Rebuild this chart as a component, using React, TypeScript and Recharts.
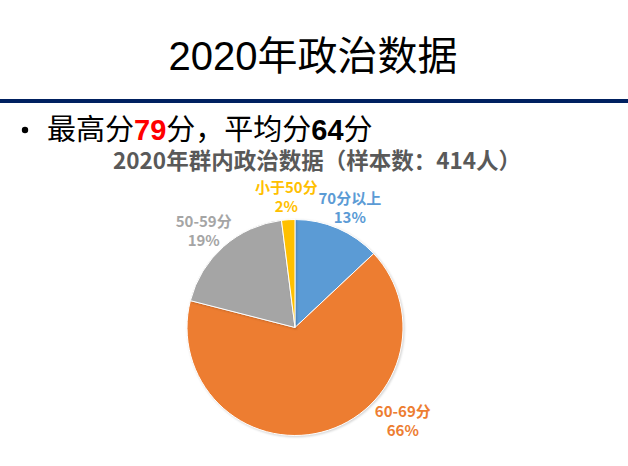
import React from "react";
import { PieChart, Pie, Cell } from "recharts";

const categories = ["70分以上", "60-69分", "50-59分", "小于50分"];
const percents = [13, 66, 19, 2];
const colors = ["#5B9BD5", "#ED7D31", "#A5A5A5", "#FFC000"];

const pageTitle = "2020年政治数据";
const chartTitle = "2020年群内政治数据（样本数：414人）";
const maxScore = 79;
const avgScore = 64;

const data = categories.map((name, i) => ({ name, value: percents[i] }));

const RADIAN = Math.PI / 180;

const renderLabel = (props: any) => {
  const { cx, cy, midAngle, outerRadius, index, name, value } = props;
  // Orange slice label is nudged up towards the right, like the best-fit placement of the original
  const angle = midAngle + (index === 1 ? 37 : 0);
  const r = outerRadius + 30;
  const x = cx + r * Math.cos(-angle * RADIAN);
  const y = cy + r * Math.sin(-angle * RADIAN);
  return (
    <text
      x={x}
      y={y}
      fill={colors[index]}
      textAnchor="middle"
      fontFamily="'Noto Sans CJK SC', sans-serif"
      fontWeight={700}
      fontSize={15}
    >
      <tspan x={x} y={y + 3}>{name}</tspan>
      <tspan x={x} y={y + 22.5}>{`${value}%`}</tspan>
    </text>
  );
};

export default function App() {
  return (
    <div style={{ position: "absolute", left: 0, top: 0, width: 628, height: 466, background: "#fff" }}>
      <style>{`.recharts-pie-sector path { filter: drop-shadow(1px 1px 1.2px rgba(0,0,0,0.18)); }`}</style>
      <div style={{ position: "absolute", left: 0, top: 0 }}>
        <PieChart width={628} height={466} margin={{ top: 0, right: 0, bottom: 0, left: 0 }}>
          <Pie
            data={data}
            dataKey="value"
            nameKey="name"
            cx={295}
            cy={327.5}
            outerRadius={108}
            startAngle={90}
            endAngle={-270}
            stroke="#ffffff"
            strokeWidth={1}
            label={renderLabel}
            labelLine={false}
            isAnimationActive={false}
          >
            {data.map((d, i) => (
              <Cell key={d.name} fill={colors[i]} />
            ))}
          </Pie>
        </PieChart>
      </div>
      <svg
        width={628}
        height={466}
        style={{ position: "absolute", left: 0, top: 0, pointerEvents: "none" }}
      >
        <text
          x={313}
          y={70}
          textAnchor="middle"
          fontFamily="'Liberation Sans', 'Noto Sans CJK SC', sans-serif"
          fontSize={40}
          fill="#000"
        >
          {pageTitle}
        </text>
        <rect x={0} y={99} width={628} height={4} fill="#002060" />
        <circle cx={25} cy={130} r={3.2} fill="#000" />
        <text
          x={47}
          y={140}
          fontFamily="'Liberation Sans', 'Noto Sans CJK SC', sans-serif"
          fontSize={29}
          fill="#000"
        >
          <tspan>最高分</tspan>
          <tspan fill="#FF0000" fontWeight={700}>{String(maxScore)}</tspan>
          <tspan>分，平均分</tspan>
          <tspan fontWeight={700}>{String(avgScore)}</tspan>
          <tspan>分</tspan>
        </text>
        <text
          x={317}
          y={169}
          textAnchor="middle"
          fontFamily="'Noto Sans CJK SC', sans-serif"
          fontWeight={700}
          fontSize={22.5}
          fill="#595959"
        >
          {chartTitle}
        </text>
      </svg>
    </div>
  );
}
